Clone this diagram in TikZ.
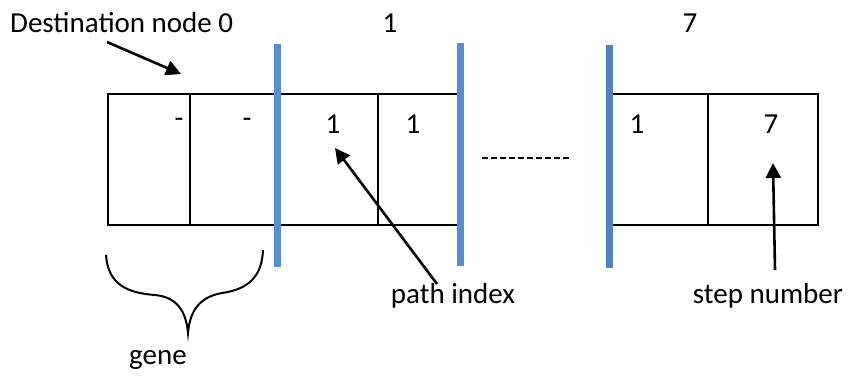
\documentclass[tikz,border=0pt]{standalone}
\usepackage{fontspec}
\setmainfont{Carlito}
\usetikzlibrary{arrows.meta}
\definecolor{barblue}{HTML}{558ED5}
\definecolor{bardark}{HTML}{4F81BD}
\tikzset{
  cell/.style={draw=black, line width=2pt, minimum height=131pt, inner sep=0pt, anchor=north west},
  txt/.style={font=\fontsize{29}{32}\selectfont, inner sep=0pt},
  bar/.style={line width=7pt, barblue},
  ptr/.style={line width=2.6pt, -{Triangle[length=15pt, width=15pt]}},
}
\begin{document}
\begin{tikzpicture}[x=1pt, y=-1pt]
\useasboundingbox (0,0) rectangle (849,378);
% cells
\node[cell, minimum width=82pt] (c1) at (107,93) {};
\node[cell, minimum width=88pt] (c2) at (189,93) {};
\node[cell, minimum width=100pt] (c3) at (277,93) {};
\node[cell, minimum width=82pt] (c4) at (377,93) {};
\node[cell, minimum width=96pt] (c5) at (611,93) {};
\node[cell, minimum width=110pt] (c6) at (707,93) {};
% cell values
\node[txt] (v1) at (179,123) {-};
\node[txt] (v2) at (247,123) {-};
\node[txt] (v3) at (333,124) {1};
\node[txt] (v4) at (413,124) {1};
\node[txt] (v5) at (637,124) {1};
\node[txt] (v6) at (771,124) {7};
% top labels
\node[txt, anchor=west] (dest) at (10,23) {Destination node 0};
\node[txt] (n1) at (390,23) {1};
\node[txt] (n7) at (690,23) {7};
% blue bars
\coordinate (b1t) at (277,44); \coordinate (b1b) at (277,267);
\coordinate (b2t) at (460.5,43); \coordinate (b2b) at (460.5,266);
\coordinate (b3t) at (609,45); \coordinate (b3b) at (609,268);
\draw[bar] (b1t) -- (b1b);
\draw[bar] (b2t) -- (b2b);
\draw[bar, bardark] (b3t) -- (b3b);
% dashes
\coordinate (d1) at (482,158); \coordinate (d2) at (569,158);
\draw[line width=1.6pt, dash pattern=on 6pt off 3pt] (d1) -- (d2);
% bottom labels
\node[txt] (pidx) at (453,296) {path index};
\node[txt] (step) at (768,296) {step number};
\node[txt] (gene) at (158,360) {gene};
% arrows
\coordinate (ds) at (107,42); \coordinate (dt) at (181,74);
\draw[ptr] (ds) -- (dt);
\coordinate (ps) at (437,284); \coordinate (pt) at (335,148);
\draw[ptr] (ps) -- (pt);
\coordinate (ss) at (775,270); \coordinate (st) at (773,163);
\draw[ptr] (ss) -- (st);
% brace
\coordinate (brl) at (106,255); \coordinate (brc) at (188,333); \coordinate (brr) at (263,250);
\draw[line width=2pt] (brl) .. controls (108,285) and (128,293) .. (155,295)
  .. controls (176,297) and (186,310) .. (brc)
  .. controls (190,310) and (200,297) .. (222,293)
  .. controls (250,289) and (262,275) .. (brr);
\end{tikzpicture}
\end{document}
